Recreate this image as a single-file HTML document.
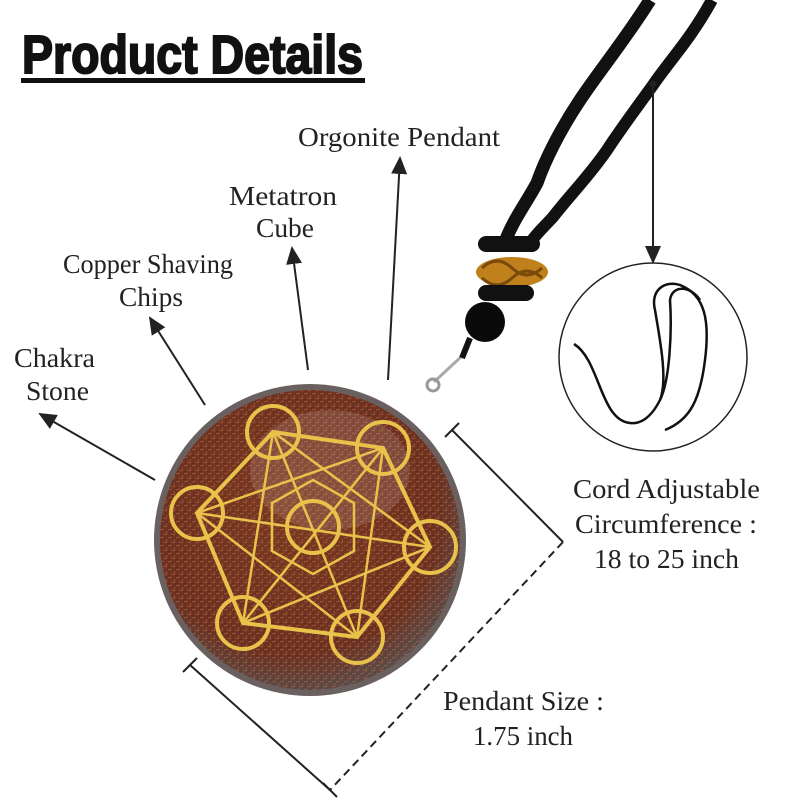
<!DOCTYPE html>
<html><head><meta charset="utf-8"><style>
body{margin:0;background:#fff}
svg{display:block}
.t{font-family:"Liberation Serif",serif;font-size:27px;fill:#222}
</style></head><body>
<svg width="800" height="800" viewBox="0 0 800 800" xmlns="http://www.w3.org/2000/svg">
<defs>
<radialGradient id="cu" cx="45%" cy="40%" r="60%">
<stop offset="0" stop-color="#7a3a22"/><stop offset="0.8" stop-color="#6a3020"/><stop offset="1" stop-color="#5a4a48"/>
</radialGradient>
<pattern id="spk" width="8" height="8" patternUnits="userSpaceOnUse">
<path d="M0 2l4 -1M3 6l4 1M6 3l1 3" stroke="#c06a40" stroke-width="1"/>
</pattern>
<marker id="ar" markerWidth="10" markerHeight="10" refX="8" refY="5" orient="auto"><path d="M0 1L9 5L0 9z" fill="#222"/></marker>
</defs>
<text x="22" y="73" font-family="Liberation Sans,sans-serif" font-weight="bold" font-size="54" fill="#111" stroke="#111" stroke-width="2" textLength="341" lengthAdjust="spacingAndGlyphs">Product Details</text>
<rect x="21" y="78" width="344" height="5" fill="#111"/>

<!-- cord -->
<path d="M650 0 C625 40 600 70 580 100 C560 130 545 160 537 183 C525 205 512 222 505 242" stroke="#111" stroke-width="13" fill="none"/>
<path d="M712 0 C690 40 670 60 653 85 C635 110 620 130 607 150 C590 175 570 195 553 217 C543 228 535 235 531 242" stroke="#111" stroke-width="12" fill="none"/>
<path d="M462 356 L434 382" stroke="#aaa" stroke-width="3"/>
<circle cx="433" cy="385" r="6" fill="none" stroke="#999" stroke-width="3"/>
<rect x="478" y="236" width="62" height="16" rx="8" fill="#111"/>
<ellipse cx="512" cy="272" rx="36" ry="15" fill="#c0801c"/>
<path d="M482 268q15-14 30 0q15 14 30 0M482 278q15 14 30 0q15-14 30 0" stroke="#7a4a0a" stroke-width="3" fill="none"/>
<rect x="478" y="285" width="56" height="16" rx="8" fill="#111"/>
<circle cx="485" cy="322" r="20" fill="#0a0a0a"/>
<path d="M470 338 L462 358" stroke="#111" stroke-width="6"/>

<!-- pendant -->
<circle cx="310" cy="540" r="156" fill="#6a6060"/>
<circle cx="310" cy="540" r="150" fill="url(#cu)"/>
<circle cx="310" cy="540" r="150" fill="url(#spk)" opacity="0.6"/>
<ellipse cx="330" cy="470" rx="80" ry="60" fill="#fff" opacity="0.12"/>
<g stroke="#e8c24a" stroke-width="4" fill="none">
<circle cx="273" cy="432" r="26"/><circle cx="383" cy="448" r="26"/><circle cx="197" cy="513" r="26"/>
<circle cx="430" cy="547" r="26"/><circle cx="243" cy="623" r="26"/><circle cx="357" cy="637" r="26"/>
<circle cx="313" cy="527" r="26"/>
<path d="M273 432L383 448L430 547L357 637L243 623L197 513Z"/>
<path d="M273 432L357 637M383 448L243 623M197 513L430 547" stroke-width="2.5"/>
<path d="M273 432L243 623L430 547ZM383 448L197 513L357 637Z" stroke-width="2.5"/>
<path d="M313 480L354 503L354 551L313 574L272 551L272 503Z" stroke-width="2.5"/>
</g>

<!-- arrows -->
<g stroke="#222" stroke-width="2" fill="none" marker-end="url(#ar)">
<line x1="388" y1="380" x2="400" y2="158"/>
<line x1="308" y1="370" x2="292" y2="248"/>
<line x1="205" y1="405" x2="150" y2="318"/>
<line x1="155" y1="480" x2="40" y2="414"/>
<line x1="653" y1="85" x2="653" y2="262"/>
</g>
<circle cx="653" cy="84" r="3.5" fill="#222"/>
<circle cx="653" cy="357" r="94" fill="none" stroke="#222" stroke-width="1.5"/>
<g stroke="#111" stroke-width="2.5" fill="none">
<path d="M574 344 C600 360 600 420 630 423 C645 425 655 410 660 400 C668 380 660 340 655 310 C650 290 665 280 680 285 C705 295 710 320 705 360 C700 400 690 420 665 430"/>
<path d="M660 400 C670 380 672 330 670 300 C672 285 690 285 700 300"/>
</g>

<!-- dimension lines -->
<g stroke="#222" stroke-width="2">
<line x1="452" y1="430" x2="563" y2="542"/>
<line x1="563" y1="542" x2="330" y2="790" stroke-dasharray="8 5"/>
<line x1="190" y1="665" x2="330" y2="790"/>
<line x1="445" y1="437" x2="459" y2="423"/>
<line x1="183" y1="672" x2="197" y2="658"/>
<line x1="323" y1="783" x2="337" y2="797"/>
</g>

<text class="t" x="298" y="146" textLength="202" lengthAdjust="spacingAndGlyphs">Orgonite Pendant</text>
<text class="t" x="229" y="205" textLength="108" lengthAdjust="spacingAndGlyphs">Metatron</text>
<text class="t" x="256" y="237" textLength="58" lengthAdjust="spacingAndGlyphs">Cube</text>
<text class="t" x="63" y="273" textLength="170" lengthAdjust="spacingAndGlyphs">Copper Shaving</text>
<text class="t" x="119" y="306" textLength="64" lengthAdjust="spacingAndGlyphs">Chips</text>
<text class="t" x="14" y="367" textLength="81" lengthAdjust="spacingAndGlyphs">Chakra</text>
<text class="t" x="26" y="400" textLength="63" lengthAdjust="spacingAndGlyphs">Stone</text>
<text class="t" x="573" y="498" textLength="187" lengthAdjust="spacingAndGlyphs">Cord Adjustable</text>
<text class="t" x="575" y="533" textLength="182" lengthAdjust="spacingAndGlyphs">Circumference :</text>
<text class="t" x="594" y="568" textLength="145" lengthAdjust="spacingAndGlyphs">18 to 25 inch</text>
<text class="t" x="443" y="710" textLength="161" lengthAdjust="spacingAndGlyphs">Pendant Size :</text>
<text class="t" x="473" y="745" textLength="100" lengthAdjust="spacingAndGlyphs">1.75 inch</text>
</svg>
</body></html>
